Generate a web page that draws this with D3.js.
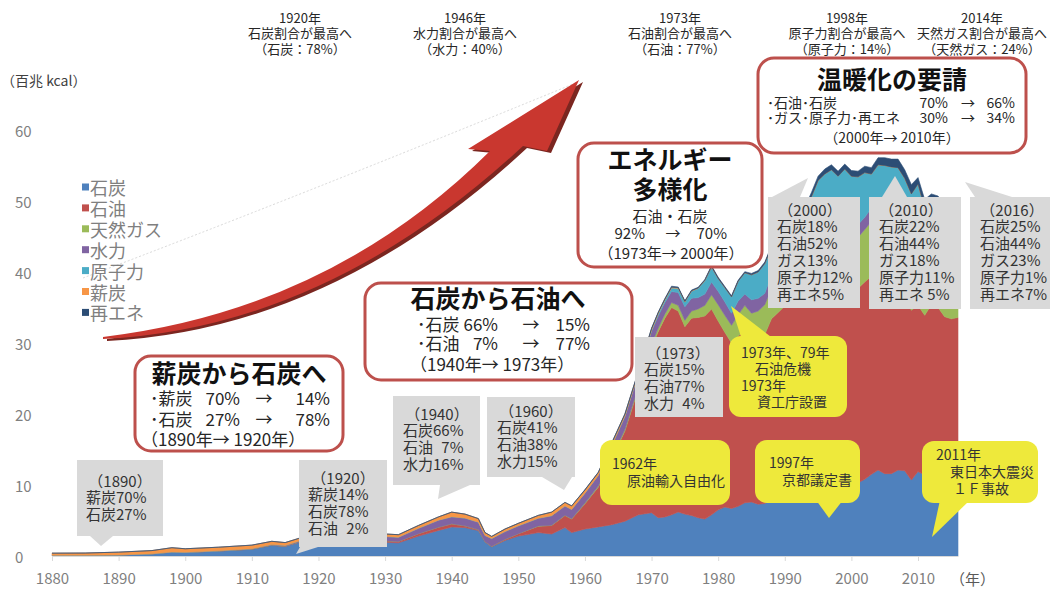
<!DOCTYPE html>
<meta charset="utf-8">
<style>
body { margin: 0; background: #fff; }
svg { font-family: "Noto Sans CJK JP", "Noto Sans", sans-serif; }
</style>
<svg id="chart" width="1052" height="592"></svg>
<script src="https://cdn.jsdelivr.net/npm/d3@7/dist/d3.min.js"></script>
<script>

// 一次エネルギー国内供給（百兆kcal）, years are not evenly spaced
var years = [1880,1885,1890,1895,1898,1900,1905,1910,1913,1915,
             1917,1920,1925,1930,1932,1935,1938,1940,1942,1944,
             1945,1946,1948,1950,1953,1955,1957,1958,1960,1962,
             1964,1966,1968,1970,1971,1972,1973,1974,1975,1976,
             1977,1978,1979,1980,1981,1982,1983,1984,1985,1986,
             1987,1988,1989,1990,1991,1992,1993,1994,1995,1996,
             1997,1998,1999,2000,2001,2002,2003,2004,2005,2006,
             2007,2008,2009,2010,2011,2012,2013,2014,2015,2016];

var coal = [0.10,0.12,0.15,0.30,0.55,0.50,0.70,0.95,1.5,1.35,
            1.9,2.0,2.2,1.95,1.85,2.8,3.6,4.1,4.0,3.6,
            2.0,1.3,2.2,2.8,3.3,3.1,4.0,3.3,3.8,4.1,
            4.4,4.9,5.8,6.1,5.4,5.5,5.8,6.2,5.9,5.7,
            5.4,5.2,5.8,6.5,6.9,6.7,7.0,7.5,7.6,7.3,
            7.4,7.9,8.0,8.0,8.3,8.2,8.4,8.8,9.0,9.2,
            9.5,9.0,9.5,9.8,10.3,10.8,11.5,12.1,11.6,11.6,
            12.1,12.0,10.7,11.9,11.4,11.7,12.6,12.4,12.5,12.2];

var oil = [0,0,0.005,0.01,0.01,0.01,0.02,0.03,0.04,0.04,
           0.05,0.05,0.1,0.2,0.2,0.35,0.45,0.43,0.25,0.12,
           0.05,0.06,0.15,0.35,0.9,1.2,1.7,1.9,3.55,5.6,
           9.2,12.7,17.7,23.3,26.2,28.0,29.2,28.3,26.4,27.8,
           28.2,28.6,29.0,26.6,24.6,23.3,24.0,24.2,22.8,23.2,
           23.8,25.5,26.3,27.2,27.3,27.6,27.0,28.4,29.3,29.3,
           28.8,27.9,28.6,28.2,27.4,27.8,27.9,26.8,26.9,26.0,
           25.8,24.5,23.9,23.4,22.5,23.7,22.4,21.3,20.9,21.4];

var gas = [0,0,0,0,0,0,0,0,0,0,
           0,0,0,0,0,0,0,0,0,0,
           0,0,0,0,0.02,0.03,0.05,0.06,0.1,0.15,
           0.2,0.25,0.3,0.45,0.5,0.6,0.7,0.8,0.9,1.0,
           1.2,1.5,2.0,2.3,2.4,2.5,3.0,3.6,3.8,4.0,
           4.2,4.3,4.6,4.8,5.1,5.3,5.4,5.7,5.9,6.3,
           6.5,6.8,7.0,7.1,7.2,7.4,7.7,7.7,7.9,8.5,
           9.2,9.2,8.8,9.6,11.2,12.3,12.3,12.2,11.7,11.2];

var hydro = [0,0,0,0.005,0.01,0.01,0.02,0.05,0.08,0.1,
             0.12,0.16,0.3,0.6,0.6,0.75,1.0,1.0,1.1,1.05,
             0.85,1.1,1.1,1.1,1.1,1.35,1.3,1.3,1.4,1.5,
             1.7,1.8,1.8,1.8,1.7,1.6,1.55,1.8,1.9,1.8,
             1.6,1.6,1.8,1.9,1.9,1.7,1.9,1.6,1.9,1.8,
             1.6,1.9,1.9,1.9,2.1,1.8,2.1,1.6,1.8,1.8,
             1.9,1.9,1.8,1.8,1.8,1.7,1.9,2.0,1.6,1.8,
             1.6,1.6,1.6,1.7,1.8,1.6,1.6,1.6,1.7,1.7];

var nuclear = [0,0,0,0,0,0,0,0,0,0,
               0,0,0,0,0,0,0,0,0,0,
               0,0,0,0,0,0,0,0,0,0,
               0,0.02,0.05,0.15,0.3,0.35,0.5,0.6,0.7,1.0,
               1.3,1.9,2.1,1.8,2.0,2.3,2.8,3.0,3.5,3.7,
               4.2,3.9,4.1,4.5,4.8,5.0,5.7,6.1,6.9,7.2,
               7.7,7.9,7.6,6.6,6.7,6.3,4.8,6.5,7.0,6.9,
               6.0,5.9,6.0,5.8,2.1,0.3,0.2,0,0.2,0.5];

var firewood = [0.3,0.3,0.39,0.45,0.6,0.5,0.5,0.5,0.45,0.4,
                0.4,0.36,0.32,0.35,0.35,0.4,0.45,0.65,0.55,0.5,
                0.4,0.3,0.35,0.35,0.4,0.5,0.5,0.5,0.45,0.4,
                0.35,0.3,0.25,0.2,0.15,0.12,0.1,0.08,0.05,0.05,
                0.05,0.04,0.04,0,0,0,0,0,0,0,
                0,0,0,0,0,0,0,0,0,0,
                0,0,0,0,0,0,0,0,0,0,
                0,0,0,0,0,0,0,0,0,0];

var renew = [0,0,0,0,0,0,0,0,0,0,
             0,0,0,0,0,0,0,0,0,0,
             0,0,0,0,0,0,0,0,0.05,0.05,
             0.05,0.06,0.08,0.1,0.1,0.1,0.15,0.1,0.1,0.1,
             0.1,0.1,0.15,0.15,0.15,0.15,0.15,0.15,0.2,0.2,
             0.2,0.2,0.3,0.4,0.4,0.5,0.5,0.6,0.6,0.7,
             0.7,0.7,0.7,0.8,0.8,0.9,0.9,1.0,1.1,1.1,
             1.2,1.2,1.3,0.9,1.2,1.4,1.6,2.0,2.3,1.7];

var seriesNames = ["石炭", "石油", "天然ガス", "水力", "原子力", "薪炭", "再エネ"];
var seriesValues = [coal, oil, gas, hydro, nuclear, firewood, renew];
var seriesColors = ["#4f81bd", "#c0504d", "#9bbb59", "#8064a2", "#4bacc6", "#f79646", "#2c4d75"];

var xTicks = [1880, 1890, 1900, 1910, 1920, 1930, 1940, 1950, 1960, 1970, 1980, 1990, 2000, 2010];
var yTicks = [0, 10, 20, 30, 40, 50, 60];

// annotation texts
var peakNotes = [
  ["1920年", "石炭割合が最高へ", "（石炭：78%）"],
  ["1946年", "水力割合が最高へ", "（水力：40%）"],
  ["1973年", "石油割合が最高へ", "（石油：77%）"],
  ["1998年", "原子力割合が最高へ", "（原子力：14%）"],
  ["2014年", "天然ガス割合が最高へ", "（天然ガス：24%）"]
];
var grayNotes = [
  ["（1890）", "薪炭70%", "石炭27%"],
  ["（1920）", "薪炭14%", "石炭78%", "石油\u20072%"],
  ["（1940）", "石炭66%", "石油\u20077%", "水力16%"],
  ["（1960）", "石炭41%", "石油38%", "水力15%"],
  ["（1973）", "石炭15%", "石油77%", "水力\u20074%"],
  ["（2000）", "石炭18%", "石油52%", "ガス13%", "原子力12%", "再エネ5%"],
  ["（2010）", "石炭22%", "石油44%", "ガス18%", "原子力11%", "再エネ 5%"],
  ["（2016）", "石炭25%", "石油44%", "ガス23%", "原子力1%", "再エネ7%"]
];
var yellowNotes = [
  ["1962年", "原油輸入自由化"],
  ["1973年、79年", "石油危機", "1973年", "資工庁設置"],
  ["1997年", "京都議定書"],
  ["2011年", "東日本大震災", "１Ｆ事故"]
];

var svg = d3.select("svg");

var x = d3.scaleLinear().domain([1880, 2016]).range([52, 958]),
    y = d3.scaleLinear().domain([0, 60]).range([556, 130]);

var rows = years.map(function(yr, i) {
  var r = {year: yr};
  seriesNames.forEach(function(n, k) { r[n] = seriesValues[k][i]; });
  return r;
});

var stacked = d3.stack().keys(seriesNames)(rows);

var area = d3.area()
    .x(function(d) { return x(d.data.year); })
    .y0(function(d) { return y(d[0]); })
    .y1(function(d) { return y(d[1]); });

function txt(g, px, py, s, size, anchor, weight, fill) {
  return g.append("text")
      .attr("x", px).attr("y", py)
      .attr("dominant-baseline", "central")
      .attr("text-anchor", anchor || "start")
      .style("font-size", (size || 15) + "px")
      .style("font-weight", weight || "normal")
      .style("fill", fill || "#262626")
      .text(s);
}

// faint dotted guide behind the arrow
svg.append("path")
    .attr("d", "M83,278 Q300,196 578,82")
    .attr("fill", "none")
    .attr("stroke", "#d8d8d8")
    .attr("stroke-dasharray", "2,2");

// stacked areas
svg.append("g").selectAll("path")
  .data(stacked)
  .enter().append("path")
    .attr("d", area)
    .attr("fill", function(d, i) { return seriesColors[i]; })
    .attr("stroke", function(d, i) { return seriesColors[i]; })
    .attr("stroke-width", 0.6);

// x axis
var xa = svg.append("g")
    .attr("transform", "translate(0," + y(0) + ")")
    .call(d3.axisBottom(x).tickValues(xTicks).tickFormat(d3.format("d"))
      .tickSize(5).tickSizeOuter(0).tickPadding(12));
xa.select(".domain").attr("stroke", "#d9d9d9");
xa.selectAll(".tick line").attr("stroke", "#d9d9d9");
xa.selectAll(".tick text")
    .style("font-size", "15px")
    .style("font-family", "'Noto Sans CJK JP', sans-serif")
    .attr("fill", "#7f7f7f");
txt(svg, 950, 578, "（年）", 15, "start", null, "#595959");

// y tick labels (left aligned, no axis line)
svg.append("g").selectAll("text")
  .data(yTicks)
  .enter().append("text")
    .attr("x", 15)
    .attr("y", function(d) { return y(d); })
    .attr("dominant-baseline", "central")
    .style("font-size", "15px")
    .style("fill", "#7f7f7f")
    .text(function(d) { return d; });
txt(svg, 1, 80, "（百兆 kcal）", 14, "start", null, "#404040");

// legend
var lg = svg.append("g");
seriesNames.forEach(function(n, i) {
  var ly = 187 + i * 20.9;
  lg.append("rect").attr("x", 82).attr("y", ly - 3.5).attr("width", 7).attr("height", 7)
    .attr("fill", seriesColors[i]);
  txt(lg, 90, ly, n, 18, "start", null, "#7f7f7f");
});

// big red arrow
var arrowD = "M103,337 Q330,310 490,151 L468,149 L579,80 L547,151 L523,146 Q327,328 103,339 Z";
svg.append("path").attr("d", arrowD).attr("fill", "#7b2620")
    .attr("transform", "translate(4,2)");
svg.append("path").attr("d", arrowD).attr("fill", "#c9372f");

// peak notes at the top
var peakX = [300, 465, 680, 847, 982];
peakNotes.forEach(function(lines, k) {
  lines.forEach(function(s, j) {
    txt(svg, peakX[k], 17 + j * 15.5, s, 13, "middle", null, "#262626");
  });
});

// gray callouts
var grayLayout = [
  {r: [77, 460, 86, 76],  p: [[90,536],[113,536],[101,546]], hx: 120, lx: 86,  y0: 480},
  {r: [299, 460, 88, 87], p: [[300,547],[318,547],[296,554]], hx: 343, lx: 308, y0: 477},
  {r: [393, 396, 87, 89], p: [[440,485],[470,485],[438,499]], hx: 437, lx: 403, y0: 413},
  {r: [487, 397, 88, 80], p: [[542,477],[572,477],[564,490]], hx: 531, lx: 497, y0: 410},
  {r: [635, 337, 88, 80], p: null, hx: 678, lx: 644, y0: 352},
  {r: [768, 197, 92, 111], p: [[772,197],[808,178],[800,197]], hx: 810, lx: 777, y0: 209},
  {r: [869, 197, 92, 112], p: [[882,197],[907,197],[895,176]], hx: 911, lx: 879, y0: 209},
  {r: [970, 197, 80, 112], p: [[965,182],[975,197],[1012,197]], hx: 1012, lx: 980, y0: 209}
];
var gg = svg.append("g");
grayLayout.forEach(function(L, k) {
  if (L.p) gg.append("polygon").attr("points", L.p.join(" ")).attr("fill", "#d9d9d9");
  gg.append("rect").attr("x", L.r[0]).attr("y", L.r[1]).attr("width", L.r[2]).attr("height", L.r[3])
    .attr("fill", "#d9d9d9");
  grayNotes[k].forEach(function(s, j) {
    if (j === 0) txt(gg, L.hx, L.y0, s, 15, "middle", null, "#333");
    else txt(gg, L.lx, L.y0 + j * 16.8, s, 15, "start", null, "#333");
  });
});

// yellow callouts
var yellowLayout = [
  {r: [600, 440, 130, 65], p: null, pos: [[612,463],[627,479.5]]},
  {r: [729, 336, 118, 81], p: [[731,306],[742,340],[775,340]], pos: [[741,351.5],[755,368],[741,384.5],[757,401]]},
  {r: [755, 440, 105, 63], p: [[816,500],[843,500],[829,518]], pos: [[769,462],[782,479]]},
  {r: [922, 441, 116, 62], p: [[940,500],[970,500],[932,537]], pos: [[936,454],[950,471],[953,488]]}
];
var yg = svg.append("g");
yellowLayout.forEach(function(L, k) {
  if (L.p) yg.append("polygon").attr("points", L.p.join(" ")).attr("fill", "#eee93b");
  yg.append("rect").attr("x", L.r[0]).attr("y", L.r[1]).attr("width", L.r[2]).attr("height", L.r[3])
    .attr("rx", 12).attr("fill", "#eee93b");
  yellowNotes[k].forEach(function(s, j) {
    txt(yg, L.pos[j][0], L.pos[j][1], s, 14, "start", null, "#333");
  });
});

// red framed boxes
function redBox(bx, by, bw, bh) {
  var g = svg.append("g");
  g.append("rect").attr("x", bx).attr("y", by).attr("width", bw).attr("height", bh)
    .attr("rx", 16).attr("fill", "#fff").attr("stroke", "#bd504c").attr("stroke-width", 3);
  return g;
}

// halfwidth middle dot keeps the bullets narrow like the original
var b1 = redBox(135, 356, 208, 95);
txt(b1, 239, 372, "薪炭から石炭へ", 25, "middle", "bold", "#111");
txt(b1, 150, 397, "･薪炭", 17); txt(b1, 240, 397, "70%", 17, "end");
txt(b1, 264, 397, "→", 17, "middle"); txt(b1, 330, 397, "14%", 17, "end");
txt(b1, 150, 418, "･石炭", 17); txt(b1, 240, 418, "27%", 17, "end");
txt(b1, 264, 418, "→", 17, "middle"); txt(b1, 330, 418, "78%", 17, "end");
txt(b1, 141, 438, "（1890年→ 1920年）", 17);

var b2 = redBox(365, 283, 267, 97);
txt(b2, 498, 297, "石炭から石油へ", 25, "middle", "bold", "#111");
txt(b2, 417, 323, "･石炭", 17); txt(b2, 498, 323, "66%", 17, "end");
txt(b2, 531, 323, "→", 17, "middle"); txt(b2, 590, 323, "15%", 17, "end");
txt(b2, 417, 342, "･石油", 17); txt(b2, 498, 342, "7%", 17, "end");
txt(b2, 531, 342, "→", 17, "middle"); txt(b2, 590, 342, "77%", 17, "end");
txt(b2, 410, 363, "（1940年→ 1973年）", 17);

var b3 = redBox(578, 143, 184, 124);
txt(b3, 670, 158, "エネルギー", 25, "middle", "bold", "#111");
txt(b3, 670, 188, "多様化", 25, "middle", "bold", "#111");
txt(b3, 670, 215, "石油・石炭", 15, "middle");
txt(b3, 645, 232, "92%", 15, "end"); txt(b3, 673, 232, "→", 15, "middle");
txt(b3, 727, 232, "70%", 15, "end");
txt(b3, 671, 252, "（1973年→ 2000年）", 15, "middle");

var b4 = redBox(758, 58, 268, 95);
txt(b4, 892, 78, "温暖化の要請", 25, "middle", "bold", "#111");
txt(b4, 767, 102, "･石油･石炭", 14); txt(b4, 948, 102, "70%", 14, "end");
txt(b4, 968, 102, "→", 14, "middle"); txt(b4, 1015, 102, "66%", 14, "end");
txt(b4, 767, 117, "･ガス･原子力･再エネ", 14); txt(b4, 948, 117, "30%", 14, "end");
txt(b4, 968, 117, "→", 14, "middle"); txt(b4, 1015, 117, "34%", 14, "end");
txt(b4, 892, 137, "（2000年→ 2010年）", 14, "middle");

</script>
